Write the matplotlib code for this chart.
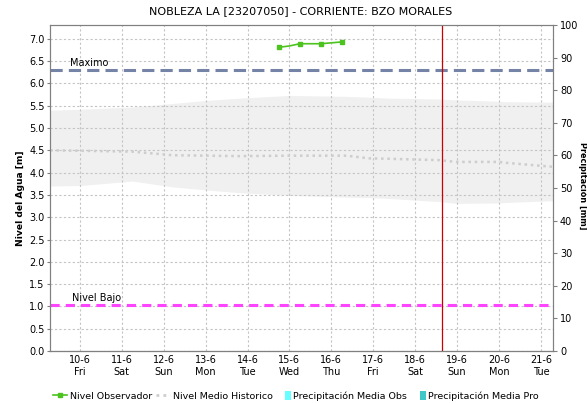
import matplotlib
matplotlib.use('Agg')
import matplotlib.pyplot as plt
from matplotlib.lines import Line2D
from matplotlib.patches import Patch, Rectangle
from matplotlib.legend_handler import HandlerPatch

matplotlib.rcParams['font.family'] = 'DejaVu Sans'
matplotlib.rcParams['xtick.labelsize'] = 7
matplotlib.rcParams['ytick.labelsize'] = 7

# day-of-month positions (10.0 == 10-6 00h)
day_ticks = [10, 11, 12, 13, 14, 15, 16, 17, 18, 19, 20, 21]
day_names = ['Fri', 'Sat', 'Sun', 'Mon', 'Tue', 'Wed', 'Thu',
             'Fri', 'Sat', 'Sun', 'Mon', 'Tue']

# observed level
obs_t = [14.75, 15.0, 15.25, 15.75, 16.0, 16.25]
obs_h = [6.81, 6.84, 6.89, 6.89, 6.91, 6.93]

# historical band and mean
hist_t = [9.29, 10.0, 11.26, 12.21, 13.02, 13.81, 15.0, 16.36, 16.9,
          17.38, 18.57, 18.98, 20.0, 20.17, 21.29]
hist_hi = [5.40, 5.42, 5.47, 5.55, 5.62, 5.67, 5.73, 5.71, 5.69,
           5.67, 5.65, 5.63, 5.60, 5.59, 5.58]
hist_lo = [3.70, 3.71, 3.81, 3.68, 3.61, 3.55, 3.49, 3.45, 3.44,
           3.42, 3.35, 3.31, 3.32, 3.33, 3.37]
hist_mean = [4.50, 4.49, 4.47, 4.39, 4.38, 4.37, 4.38, 4.38, 4.32,
             4.31, 4.28, 4.24, 4.24, 4.22, 4.13]

nivel_max = 6.30
nivel_bajo = 1.03
now_t = 18.65


class NarrowPatch(HandlerPatch):
    def create_artists(self, legend, orig_handle, xdescent, ydescent,
                       width, height, fontsize, trans):
        w = height * 0.85
        r = Rectangle((-xdescent + width - w, -ydescent - 1), w, height + 2,
                      facecolor=orig_handle.get_facecolor(), edgecolor='none',
                      transform=trans)
        return [r]


fig = plt.figure(figsize=(5.87, 4.03), dpi=100)
ax = fig.add_axes([50 / 587, 1 - 351 / 403, 503 / 587, 326 / 403])
ax2 = ax.twinx()

grid_kw = dict(color='#c4c4c4', linestyle=(0, (2, 2)), linewidth=0.8)
for d in day_ticks:
    ax.axvline(d, zorder=0.5, **grid_kw)
for v in [i * 0.5 for i in range(15)]:
    ax.axhline(v, zorder=0.5, **grid_kw)

ax.fill_between(hist_t, hist_lo, hist_hi, color='#f0f0f0', lw=0, zorder=0.3)
ax.plot(hist_t, hist_mean, color='#cdcdcd', lw=1.8, linestyle=(0, (1, 1.5)),
        zorder=1)

ax.axhline(nivel_max, color='#7583a6', lw=2.2, linestyle=(0, (4, 2)), zorder=2)
ax.axhline(nivel_bajo, color='#ff44ff', lw=2.2, linestyle=(0, (3, 2)), zorder=2)
ax.text(9.76, nivel_max + 0.05, 'Maximo', fontsize=7, va='bottom')
ax.text(9.8, nivel_bajo + 0.05, 'Nivel Bajo', fontsize=7, va='bottom')

ax.axvline(now_t, color='#cc0000', lw=0.9, zorder=3)

ax.plot(obs_t, obs_h, color='#4cc31e', lw=1.2, marker='s', markersize=2.5,
        markevery=[0, 2, 3, 5], zorder=4)

ax.set_xlim(9.286, 21.29)
ax.set_ylim(0, 7.31)
ax.set_yticks([i * 0.5 for i in range(15)])
ax.set_yticklabels(['%.1f' % (i * 0.5) for i in range(15)])
ax.set_xticks(day_ticks)
ax.set_xticklabels(['%d-6\n%s' % (d, n) for d, n in zip(day_ticks, day_names)])
ax.tick_params(axis='x', length=0, pad=3)
ax.tick_params(axis='y', length=2, width=0.8, color='#808080', pad=2)

ax2.set_ylim(0, 100)
ax2.set_yticks(range(0, 101, 10))
ax2.tick_params(axis='y', length=3, width=0.8, color='#808080', pad=2)

fig.text(20.5 / 587, 1 - 198 / 403, 'Nivel del Agua [m]', fontsize=6.6,
         fontweight='bold', rotation=90, ha='center', va='center')
fig.text(583 / 587, 1 - 186 / 403, 'Precipitación [mm]', fontsize=5.9,
         fontweight='bold', rotation=-90, ha='center', va='center')

for a in (ax, ax2):
    for s in a.spines.values():
        s.set_color('#808080')
        s.set_linewidth(0.8)
ax.spines['bottom'].set_linestyle((0, (1, 1)))
ax.spines['bottom'].set_color('#404040')

fig.suptitle('NOBLEZA LA [23207050] - CORRIENTE: BZO MORALES',
             x=301 / 587, y=1 - 6 / 403, va='top', fontsize=8)

handles = [
    Line2D([], [], color='#4cc31e', lw=1.2, marker='s', markersize=2.5),
    Line2D([], [], color='#cdcdcd', lw=2, linestyle=(0, (1, 1.5))),
    Patch(facecolor='#66ffff', edgecolor='none'),
    Patch(facecolor='#40c8c8', edgecolor='none'),
]
labels = ['Nivel Observador', 'Nivel Medio Historico',
          'Precipitación Media Obs', 'Precipitación Media Pro']
fig.legend(handles, labels, loc='center', bbox_to_anchor=(296 / 587, 1 - 396 / 403),
           ncol=4, frameon=False, fontsize=6.8, handlelength=1.5,
           handletextpad=0.25, columnspacing=0.45,
           handler_map={Patch: NarrowPatch()})

fig.savefig('out.png', dpi=100)
